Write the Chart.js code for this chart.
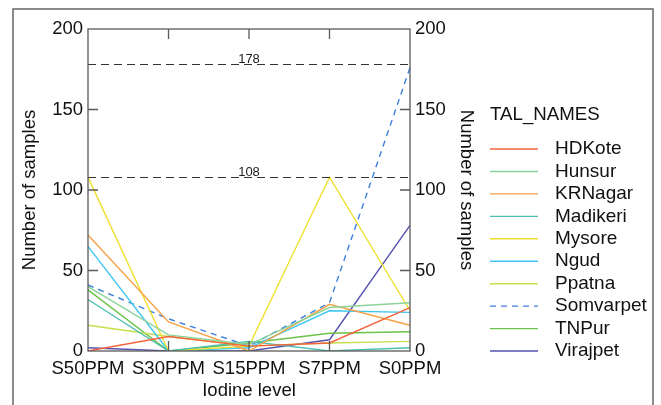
<!DOCTYPE html>
<html>
<head>
  <title>Iodine level by taluk</title>
  <style>
    body { margin: 0; background: #fff; }
    canvas { display: block; }
  </style>
</head>
<body>
  <canvas id="canvas" width="661" height="405"></canvas>
  <script src="https://cdn.jsdelivr.net/npm/chart.js"></script>
  <script>
    // categories and series values
    var levels = ['S50PPM', 'S30PPM', 'S15PPM', 'S7PPM', 'S0PPM'];
    var talNames = ['HDKote', 'Hunsur', 'KRNagar', 'Madikeri', 'Mysore', 'Ngud', 'Ppatna', 'Somvarpet', 'TNPur', 'Virajpet'];
    var hdkote    = [0, 9, 3, 5, 27];
    var hunsur    = [40, 10, 4, 27, 30];
    var krnagar   = [72, 18, 0, 29, 16];
    var madikeri  = [32, 0, 6, 0, 2];
    var mysore    = [108, 0, 3, 108, 25];
    var ngud      = [65, 0, 2, 25, 24];
    var ppatna    = [16, 9, 3, 5, 6];
    var somvarpet = [41, 20, 3, 30, 176];
    var tnpur     = [38, 0, 5, 11, 12];
    var virajpet  = [2, 0, 0, 7, 78];
    var refLines  = [178, 108];
    var yTicks    = [0, 50, 100, 150, 200];

    var colors = ['#f4623a', '#8cd39a', '#f7a145', '#4dbfb0', '#efe02e', '#3fc6f0', '#c6df4c', '#3d7fdc', '#6cc24a', '#5553b0'];
    var series = [hdkote, hunsur, krnagar, madikeri, mysore, ngud, ppatna, somvarpet, tnpur, virajpet];

    var fontFamily = '"Liberation Sans", Arial, sans-serif';
    var frameColor = '#5a5a5a';

    var datasets = talNames.map(function(name, i) {
      return {
        label: name,
        data: series[i],
        borderColor: colors[i],
        backgroundColor: colors[i],
        borderWidth: 1.4,
        borderDash: name === 'Somvarpet' ? [6, 5] : [],
        pointRadius: 0,
        tension: 0,
        fill: false
      };
    });

    // frame, inward ticks, reference lines, legend
    var decor = {
      id: 'decor',
      afterDatasetsDraw: function(chart) {
        var ctx = chart.ctx;
        var a = chart.chartArea;
        var x = chart.scales.x, y = chart.scales.y;
        ctx.save();

        // dashed reference lines
        ctx.strokeStyle = '#333';
        ctx.lineWidth = 1.1;
        ctx.setLineDash([8, 5]);
        refLines.forEach(function(v) {
          var py = Math.round(y.getPixelForValue(v)) + 0.5;
          ctx.beginPath();
          ctx.moveTo(a.left, py);
          ctx.lineTo(a.right, py);
          ctx.stroke();
        });
        ctx.setLineDash([]);
        ctx.fillStyle = '#222';
        ctx.font = '13px ' + fontFamily;
        ctx.textAlign = 'center';
        ctx.textBaseline = 'bottom';
        refLines.forEach(function(v) {
          ctx.fillText(String(v), x.getPixelForValue(2), y.getPixelForValue(v) + 2);
        });

        // plot box
        ctx.strokeStyle = frameColor;
        ctx.lineWidth = 1.3;
        ctx.strokeRect(a.left, a.top, a.right - a.left, a.bottom - a.top);

        // inward ticks
        ctx.beginPath();
        for (var i = 1; i < levels.length - 1; i++) {
          var px = x.getPixelForValue(i);
          ctx.moveTo(px, a.top); ctx.lineTo(px, a.top + 10);
          ctx.moveTo(px, a.bottom); ctx.lineTo(px, a.bottom - 10);
        }
        yTicks.slice(1, -1).forEach(function(v) {
          var py = y.getPixelForValue(v);
          ctx.moveTo(a.left, py); ctx.lineTo(a.left + 10, py);
          ctx.moveTo(a.right, py); ctx.lineTo(a.right - 10, py);
        });
        ctx.stroke();
        ctx.restore();
      },
      afterDraw: function(chart) {
        var ctx = chart.ctx;
        ctx.save();
        // outer figure frame
        ctx.strokeStyle = '#666';
        ctx.lineWidth = 1.5;
        ctx.strokeRect(13, 9, 640, 420);

        // legend
        ctx.fillStyle = '#111';
        ctx.font = '18.7px ' + fontFamily;
        ctx.textAlign = 'left';
        ctx.textBaseline = 'middle';
        ctx.fillText('TAL_NAMES', 490, 115);
        ctx.font = '19px ' + fontFamily;
        talNames.forEach(function(name, i) {
          var ly = 149 + i * 22.45;
          ctx.strokeStyle = colors[i];
          ctx.lineWidth = 1.4;
          ctx.setLineDash(name === 'Somvarpet' ? [6, 5] : []);
          ctx.beginPath();
          ctx.moveTo(490, ly);
          ctx.lineTo(538, ly);
          ctx.stroke();
          ctx.fillText(name, 555, ly);
        });
        ctx.restore();
      }
    };

    var tickFont = { family: fontFamily, size: 18.5 };

    var config = {
      type: 'line',
      data: {
        labels: levels,
        datasets: datasets
      },
      options: {
        responsive: false,
        animation: false,
        layout: {
          padding: { left: 0, right: 171, top: 29, bottom: 0 }
        },
        plugins: {
          legend: { display: false },
          tooltip: { enabled: false }
        },
        scales: {
          x: {
            type: 'category',
            offset: false,
            grid: { display: false, drawTicks: false },
            border: { display: false },
            ticks: { color: '#111', font: tickFont, padding: 7, maxRotation: 0, autoSkip: false },
            title: { display: true, text: 'Iodine level', color: '#111', font: tickFont, padding: { top: 0, bottom: 3 } },
            afterFit: function(s) { s.height = 54; }
          },
          y: {
            position: 'left',
            min: 0,
            max: 200,
            grid: { display: false, drawTicks: false },
            border: { display: false },
            ticks: { stepSize: 50, color: '#111', font: tickFont, padding: 5 },
            title: { display: true, text: 'Number of samples', color: '#111', font: tickFont, padding: { top: 19, bottom: 0 } },
            afterFit: function(s) { s.width = 88; }
          },
          y2: {
            position: 'right',
            min: 0,
            max: 200,
            grid: { display: false, drawTicks: false },
            border: { display: false },
            ticks: { stepSize: 50, color: '#111', font: tickFont, padding: 5 },
            title: { display: true, text: 'Number of samples', color: '#111', font: tickFont, padding: { top: 13, bottom: 0 } },
            afterFit: function(s) { s.width = 80; }
          }
        }
      },
      plugins: [decor]
    };

    window.onload = function() {
      var ctx = document.getElementById('canvas').getContext('2d');
      window.myLine = new Chart(ctx, config);
    };
  </script>
</body>
</html>
